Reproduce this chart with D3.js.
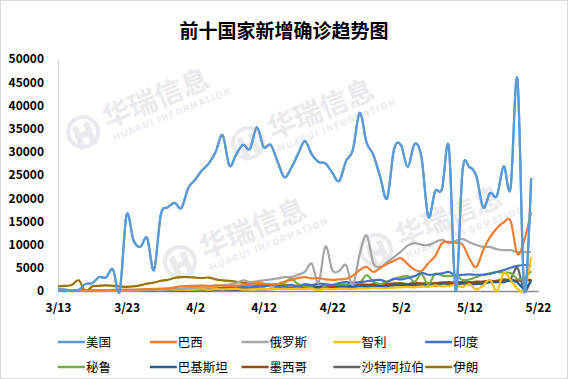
<!DOCTYPE html>
<html><head><meta charset="utf-8">
<script src="https://cdnjs.cloudflare.com/ajax/libs/d3/7.8.5/d3.min.js"></script>
<style>
html,body{margin:0;padding:0;background:#fff;}
svg{display:block;font-family:"Noto Sans CJK SC","Noto Sans",sans-serif;}
</style></head>
<body><svg id="c" width="568" height="379"></svg>
<script>
const title = "前十国家新增确诊趋势图";
const seriesNames = ["美国","巴西","俄罗斯","智利","印度","秘鲁","巴基斯坦","墨西哥","沙特阿拉伯","伊朗"];
const colors = ["#5B9BD5","#ED7D31","#A5A5A5","#FFC000","#4472C4","#70AD47","#255E91","#9E480E","#636363","#997300"];
const xTickLabels = ["3/13","3/23","4/2","4/12","4/22","5/2","5/12","5/22"];
const yTicks = [0,5000,10000,15000,20000,25000,30000,35000,40000,45000,50000];

const usa = [400,300,100,200,1500,1700,3000,2900,4700,0,
16400,11000,9500,11400,4500,16500,18000,19000,17900,22200,
24000,26000,27500,30000,33600,27000,29500,31500,30600,35300,
31000,31500,28000,24500,26500,29500,32300,29500,27800,27500,
25500,23700,28000,30400,38400,32000,29300,24500,20000,30500,
31500,26700,31700,28900,16000,21500,22000,31000,0,26000,
26700,24800,18000,21100,20500,26900,22200,45700,0,24300];
const brazil = [20,30,40,60,80,100,150,200,230,270,
300,320,350,400,450,500,550,800,1000,1100,
1100,1200,1100,1200,1200,1100,1150,1300,1500,1700,
1600,1400,1500,2000,2400,2800,3000,2700,2800,2500,
2400,2500,2600,3300,4500,5200,4100,5000,5800,6500,
7100,5800,4600,4300,6000,7500,10300,10600,10400,10000,
7000,5200,8800,11600,13500,14800,15100,8000,11000,17000];
const russia = [0,10,20,30,50,60,100,100,150,160,
170,180,200,230,270,300,400,450,500,600,
770,800,900,1100,1200,1400,1700,2300,1900,2100,
2300,2500,2700,3000,3000,3500,4100,5900,1800,9600,
4500,4300,5600,1300,8000,12000,6000,5200,6200,7300,
8500,9800,10300,10000,9900,10500,11000,10300,10800,11200,
10500,9900,9500,9500,9000,8800,8800,8400,8400,8400];
const chile = [0,0,0,0,0,0,50,50,50,100,
100,150,200,250,300,300,350,300,300,300,
350,400,300,400,350,400,450,300,350,400,
400,400,450,500,450,500,400,500,200,500,
400,500,500,450,600,550,700,600,650,700,
800,900,800,1000,900,1200,1000,1100,1300,900,
1500,300,1200,2400,0,3900,2400,500,300,7300];
const india = [10,10,20,20,30,30,50,60,80,70,
90,100,75,150,100,230,230,200,430,500,
480,600,550,500,700,850,800,900,800,1000,
1000,1200,1100,1000,1300,900,1500,1300,1600,1500,
1300,1700,1900,1800,1900,2100,2300,2400,2000,2600,
2500,2800,3200,3900,3500,3600,3800,4100,3400,3500,
3600,3500,3500,3700,4100,4500,5000,5400,5600,5400];
const peru = [0,0,0,0,0,0,0,10,20,30,
20,30,50,80,100,60,150,200,300,250,
300,400,350,500,400,600,700,1000,1300,1200,
1000,1300,1500,1800,2600,1500,900,800,0,1200,
1300,1500,1400,1700,1800,3400,2000,1500,2000,2600,
3000,3200,2000,3600,1400,3700,3300,3200,3300,2400,
2500,3000,3500,3800,4100,3900,3900,2600,2800,4300];
const pakistan = [0,0,0,5,30,50,100,200,150,130,
150,100,150,100,150,200,150,250,200,250,
250,300,200,250,300,250,350,300,400,350,
350,450,500,600,550,600,700,750,800,850,
650,750,800,900,950,900,1000,1100,1050,1200,
1250,1300,1200,1000,1500,1100,1600,1500,1400,1700,
1400,1500,1600,1900,1900,1900,2300,1800,500,2200];
const mexico = [0,0,0,0,0,0,0,0,10,20,
30,40,40,50,60,70,80,100,100,120,
150,170,200,250,250,300,300,350,400,500,
450,400,500,600,700,500,600,700,800,1000,
1000,1200,1100,800,1400,1300,1500,1400,1300,1500,
1500,1400,1800,1600,1500,1600,1800,1900,1700,1600,
1800,2000,2000,2200,2100,2300,2400,2200,2400,2400];
const saudi = [0,0,0,10,20,30,40,50,60,100,
100,120,150,100,100,100,110,150,100,150,
150,200,200,250,300,400,300,350,450,500,
400,450,500,600,700,800,1000,1100,900,1100,
1200,1100,1100,1200,1300,1300,1200,1400,1500,1600,
1400,1500,1600,1500,1600,1700,1800,1700,1800,1900,
1900,1700,2000,2100,2200,2500,2600,5000,0,2500];
const iran = [1000,1100,1300,2300,0,1000,1100,1200,1100,1000,
900,1000,1200,1600,1800,2200,2400,2800,3000,3000,
2900,2800,2900,2500,2300,2200,2000,1800,1700,1600,
1500,1400,1300,1300,1200,1100,1000,1000,900,1000,
1000,1000,1000,1100,1000,1200,1300,1400,1500,1600,
1700,1500,1500,1600,1700,1400,1600,1700,1800,1900,
1700,1700,2000,2100,2200,2300,2100,2300,2400,2200];

const seriesValues = [usa,brazil,russia,chile,india,peru,pakistan,mexico,saudi,iran];

const W = 568, H = 379;
const svg = d3.select("#c");
svg.append("rect").attr("x",0.5).attr("y",0.5).attr("width",W-1).attr("height",H-1)
  .attr("fill","#fff").attr("stroke","#d9d9d9");

const x0 = 58, x1 = 538, yTop = 59, yBot = 291;
const x = d3.scaleLinear().domain([0,70]).range([x0,x1]);
const y = d3.scaleLinear().domain([0,50000]).range([yBot,yTop]);

// watermarks
const wmColor = "#e9e9ee";
const wm = [[83,132],[248,143],[180,262],[376,250]];
wm.forEach(([wx,wy]) => {
  const g = svg.append("g").attr("transform",`translate(${wx},${wy}) rotate(-22)`).attr("fill",wmColor);
  g.append("circle").attr("r",15).attr("fill","none").attr("stroke",wmColor).attr("stroke-width",4);
  g.append("path").attr("d","M-9,-8 L-3,-8 L-3,0 L3,0 L3,-8 L9,-8 L9,16 L3,16 L3,6 L-3,6 L-3,16 L-9,16 Z");
  g.append("text").attr("x",24).attr("y",6).attr("font-size",28).attr("font-weight","bold").text("华瑞信息");
  g.append("text").attr("x",26).attr("y",20).attr("font-size",9).attr("font-weight","bold")
    .attr("letter-spacing",1.5).text("HUARUI INFORMATION");
});

// title
svg.append("text").attr("x",284).attr("y",38).attr("text-anchor","middle")
  .attr("font-size",19).attr("font-weight","bold").attr("fill","#000").text(title);

// y axis
const yAxis = svg.append("g").attr("transform",`translate(${x0},0)`)
  .call(d3.axisLeft(y).tickValues(yTicks).tickSize(0).tickPadding(14).tickFormat(d3.format("d")));
yAxis.select(".domain").attr("stroke","#d9d9d9");
yAxis.selectAll("text").attr("font-size",12).attr("font-weight","bold").attr("fill","#000")
  .attr("font-family","'Noto Sans CJK SC',sans-serif");

// x axis
const xAxis = svg.append("g").attr("transform",`translate(0,${yBot})`)
  .call(d3.axisBottom(x).tickValues(d3.range(0,71,10)).tickSize(0).tickPadding(12)
    .tickFormat((d,i)=>xTickLabels[i]));
xAxis.select(".domain").attr("stroke","#8c8c8c").attr("stroke-width",1.5);
xAxis.selectAll("text").attr("font-size",12).attr("font-weight","bold").attr("fill","#000")
  .attr("font-family","'Noto Sans CJK SC',sans-serif");

// lines
const line = d3.line().x((d,i)=>x(i)).y(d=>y(d)).curve(d3.curveCatmullRom.alpha(0));
const clip = svg.append("clipPath").attr("id","pc").append("rect")
  .attr("x",x0).attr("y",yTop-15).attr("width",x1-x0+5).attr("height",yBot-yTop+22);
const lg = svg.append("g").attr("clip-path","url(#pc)");
for (let k = seriesValues.length-1; k >= 0; k--) {
  lg.append("path").datum(seriesValues[k]).attr("d",line)
    .attr("fill","none").attr("stroke",colors[k]).attr("stroke-width",2.2)
    .attr("stroke-linejoin","round");
}
lg.append("path").datum(usa).attr("d",line).attr("fill","none")
  .attr("stroke",colors[0]).attr("stroke-width",2.2);

// legend
seriesNames.forEach((n,i) => {
  const col = i % 5, row = Math.floor(i/5);
  const lx = 58 + col*91.8, ly = 342 + row*25;
  svg.append("line").attr("x1",lx).attr("x2",lx+27).attr("y1",ly).attr("y2",ly)
    .attr("stroke",colors[i]).attr("stroke-width",2.5);
  svg.append("text").attr("x",lx+28).attr("y",ly+4.5).attr("font-size",12.5)
    .attr("fill","#000").text(n);
});
</script></body></html>
